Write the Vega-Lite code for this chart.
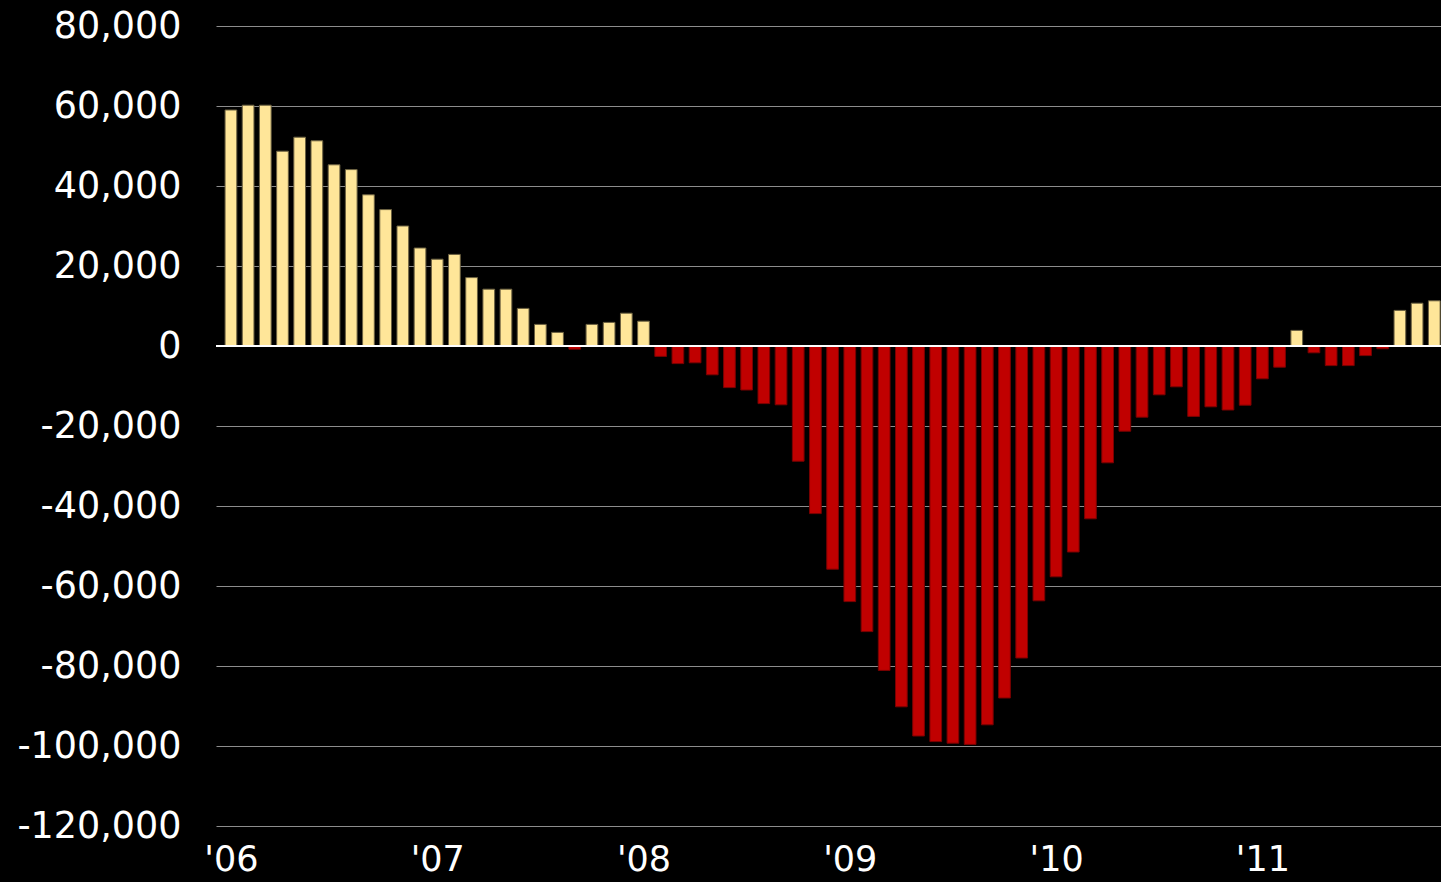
{
  "$schema": "https://vega.github.io/schema/vega-lite/v6.json",
  "width": 1225,
  "height": 800,
  "autosize": "none",
  "padding": {"left": 216, "top": 26, "right": 0, "bottom": 56},
  "background": "#000000",
  "config": {
    "view": {"stroke": null},
    "font": "DejaVu Sans",
    "axis": {"labelFont": "DejaVu Sans", "labelColor": "#ffffff", "labelFontSize": 36.5}
  },
  "data": {
    "values": [
      {"month": 0, "value": 59000}, {"month": 1, "value": 60200}, {"month": 2, "value": 60200},
      {"month": 3, "value": 48700}, {"month": 4, "value": 52200}, {"month": 5, "value": 51300},
      {"month": 6, "value": 45300}, {"month": 7, "value": 44100}, {"month": 8, "value": 37800},
      {"month": 9, "value": 34100}, {"month": 10, "value": 30000}, {"month": 11, "value": 24500},
      {"month": 12, "value": 21700}, {"month": 13, "value": 22900}, {"month": 14, "value": 17100},
      {"month": 15, "value": 14200}, {"month": 16, "value": 14200}, {"month": 17, "value": 9400},
      {"month": 18, "value": 5400}, {"month": 19, "value": 3400}, {"month": 20, "value": -800},
      {"month": 21, "value": 5400}, {"month": 22, "value": 5900}, {"month": 23, "value": 8200},
      {"month": 24, "value": 6200}, {"month": 25, "value": -2600}, {"month": 26, "value": -4400},
      {"month": 27, "value": -4200}, {"month": 28, "value": -7200}, {"month": 29, "value": -10400},
      {"month": 30, "value": -11000}, {"month": 31, "value": -14400}, {"month": 32, "value": -14700},
      {"month": 33, "value": -28800}, {"month": 34, "value": -41900}, {"month": 35, "value": -55800},
      {"month": 36, "value": -63900}, {"month": 37, "value": -71400}, {"month": 38, "value": -81100},
      {"month": 39, "value": -90200}, {"month": 40, "value": -97500}, {"month": 41, "value": -98900},
      {"month": 42, "value": -99300}, {"month": 43, "value": -99600}, {"month": 44, "value": -94700},
      {"month": 45, "value": -88000}, {"month": 46, "value": -78000}, {"month": 47, "value": -63700},
      {"month": 48, "value": -57700}, {"month": 49, "value": -51500}, {"month": 50, "value": -43200},
      {"month": 51, "value": -29200}, {"month": 52, "value": -21300}, {"month": 53, "value": -17800},
      {"month": 54, "value": -12200}, {"month": 55, "value": -10200}, {"month": 56, "value": -17600},
      {"month": 57, "value": -15200}, {"month": 58, "value": -16000}, {"month": 59, "value": -14800},
      {"month": 60, "value": -8200}, {"month": 61, "value": -5300}, {"month": 62, "value": 3900},
      {"month": 63, "value": -1700}, {"month": 64, "value": -4900}, {"month": 65, "value": -4900},
      {"month": 66, "value": -2400}, {"month": 67, "value": -700}, {"month": 68, "value": 8900},
      {"month": 69, "value": 10700}, {"month": 70, "value": 11300}
    ]
  },
  "encoding": {
    "x": {
      "field": "month",
      "type": "quantitative",
      "scale": {"domain": [-0.577, 70.1], "nice": false, "zero": false},
      "axis": {
        "title": null,
        "values": [0, 12, 24, 36, 48, 60],
        "labelExpr": "[\"'06\",\"'07\",\"'08\",\"'09\",\"'10\",\"'11\"][round(datum.value/12)]",
        "grid": false,
        "ticks": false,
        "domain": false,
        "labelFontSize": 35,
        "labelPadding": 16,
        "labelFlush": false,
        "labelOverlap": false
      }
    },
    "y": {
      "field": "value",
      "type": "quantitative",
      "scale": {"domain": [-120000, 80000], "nice": false},
      "axis": {
        "title": null,
        "values": [-120000, -100000, -80000, -60000, -40000, -20000, 0, 20000, 40000, 60000, 80000],
        "labelExpr": "(datum.value < 0 ? '-' : '') + format(abs(datum.value), ',d')",
        "grid": true,
        "gridColor": "#8c8c8c",
        "gridWidth": 1,
        "ticks": false,
        "domain": false,
        "labelPadding": 35,
        "labelOverlap": false
      }
    }
  },
  "layer": [
    {
      "mark": {"type": "bar", "size": 11.7, "clip": true, "strokeWidth": 1},
      "encoding": {
        "color": {"condition": {"test": "datum.value >= 0", "value": "#FFE699"}, "value": "#C00000"},
        "stroke": {"condition": {"test": "datum.value >= 0", "value": "#6b6040"}, "value": "#7a0000"}
      }
    },
    {
      "mark": {"type": "rule", "color": "#ffffff", "strokeWidth": 2},
      "encoding": {"y": {"datum": 0}, "x": {"value": 0}, "x2": {"value": 1225}}
    }
  ]
}
